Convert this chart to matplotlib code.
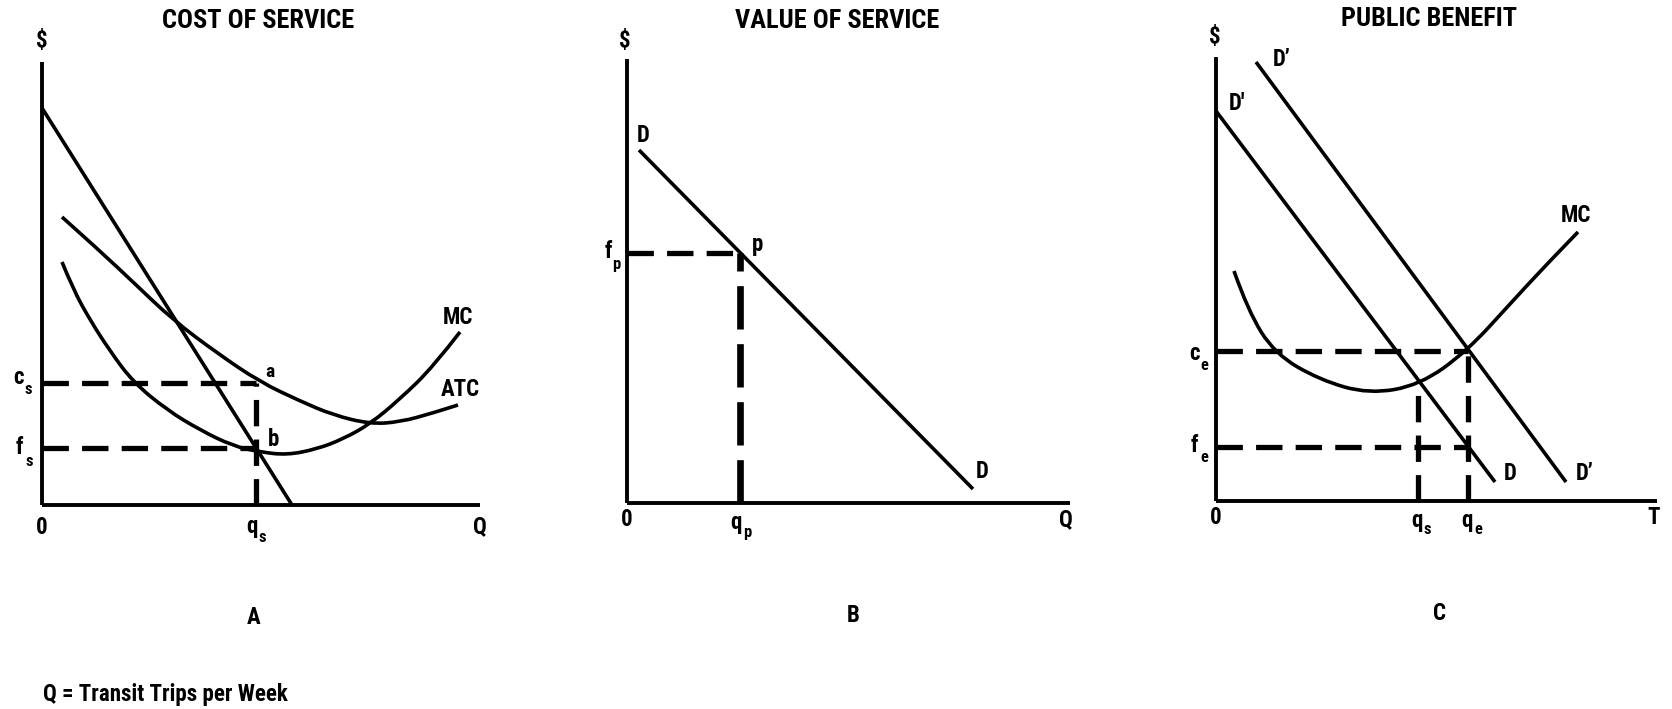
import matplotlib
matplotlib.use("Agg")
import matplotlib.pyplot as plt
from matplotlib import font_manager as fm
from matplotlib.path import Path
from matplotlib.patches import PathPatch

# ---------------- font selection (bold condensed look) ----------------
_names = {f.name for f in fm.fontManager.ttflist}
FONT = dict(weight="bold")
for _cand in ["Liberation Sans Narrow", "Arial Narrow", "Roboto Condensed", "Open Sans Condensed"]:
    if _cand in _names:
        FONT["family"] = _cand
        break
else:
    FONT["family"] = "DejaVu Sans"
    FONT["stretch"] = "condensed"

# ---------------- data ----------------
# Panel A: cost of service
a_demand_q = [0, 250]
a_demand_p = [397, 0]
a_atc_q = [20, 58, 91, 131, 175, 218, 258, 291, 328, 358, 391, 416]
a_atc_p = [288, 254, 223, 185, 152, 123, 104, 90, 81, 83, 92, 100]
a_mc_q = [20, 31, 48, 68, 91, 125, 158, 191, 218, 245, 275, 301, 328, 358, 391, 418]
a_mc_p = [243, 216, 185, 154, 123, 95, 75, 59, 53, 50, 56, 66, 81, 106, 138, 173]
a_cs, a_fs, a_qs = 122, 57, 214

# Panel B: value of service
b_demand_q = [12, 346]
b_demand_p = [353, 14]
b_fp, b_qp = 250, 113

# Panel C: public benefit
c_d_q = [0, 279]
c_d_p = [390, 19]
c_d2_q = [40, 350]
c_d2_p = [439, 19]
c_mc_q = [18, 32, 59, 104, 153, 204, 251, 294, 329, 362]
c_mc_p = [230, 190, 147, 121, 107, 116, 150, 197, 235, 269]
c_ce, c_fe, c_qs, c_qe, c_ms = 150, 54, 202, 252, 118

titles = ["COST OF SERVICE", "VALUE OF SERVICE", "PUBLIC BENEFIT"]
panel_letters = ["A", "B", "C"]
footnote = "Q = Transit Trips per Week"

# ---------------- figure ----------------
W, H = 1672, 709
fig = plt.figure(figsize=(W / 100, H / 100), dpi=100)
fig.patch.set_facecolor("white")


def make_ax(ox, oy, w, h):
    ax = fig.add_axes([ox / W, (H - oy) / H, w / W, h / H])
    ax.set_xlim(0, w)
    ax.set_ylim(0, h)
    for s in ["top", "right"]:
        ax.spines[s].set_visible(False)
    for s in ["left", "bottom"]:
        ax.spines[s].set_linewidth(2.8)
        ax.spines[s].set_color("black")
        ax.spines[s].set_capstyle("butt")
    ax.set_xticks([])
    ax.set_yticks([])
    ax.patch.set_alpha(0)
    return ax


LW = 2.6
DLW = 3.8
DASH = (5, 2.5)
TS = 16.5   # label size


def curve(ax, x, y):
    pts = list(zip(x, y))
    if len(pts) <= 2:
        ax.plot(x, y, color="black", lw=LW, solid_capstyle="butt", clip_on=False)
        return
    verts = [pts[0]]
    codes = [Path.MOVETO]
    for i in range(1, len(pts) - 1):
        if i == len(pts) - 2:
            end = pts[-1]
        else:
            end = ((pts[i][0] + pts[i + 1][0]) / 2, (pts[i][1] + pts[i + 1][1]) / 2)
        verts += [pts[i], end]
        codes += [Path.CURVE3, Path.CURVE3]
    patch = PathPatch(Path(verts, codes), facecolor="none", edgecolor="black",
                      lw=LW, capstyle="butt", clip_on=False)
    ax.add_patch(patch)


def dashed(ax, x, y, lw=DLW, dashes=DASH):
    ax.plot(x, y, color="black", lw=lw, dashes=dashes, dash_capstyle="butt", clip_on=False)


def txt(ax, x, y, s, size=TS, **kw):
    ax.text(x, y, s, fontsize=size, ha="center", va="center", color="black", **FONT, **kw)


def sub_label(ax, x, y, main, sub, size=TS, dx=8, dy=-10):
    txt(ax, x, y, main, size=size)
    txt(ax, x + dx, y + dy, sub, size=size * 0.72)


# ---------- Panel A ----------
axA = make_ax(42, 505, 438, 443)
curve(axA, a_demand_q, a_demand_p)
curve(axA, a_atc_q, a_atc_p)
curve(axA, a_mc_q, a_mc_p)
dashed(axA, [0, a_qs], [a_cs, a_cs])
dashed(axA, [0, a_qs], [a_fs, a_fs])
dashed(axA, [a_qs, a_qs], [0, a_cs])
txt(axA, 216, 484, titles[0], size=19)
txt(axA, 0, 464, "$", size=TS)
sub_label(axA, -24, 128, "c", "s", dx=10, dy=-12)
sub_label(axA, -23, 58, "f", "s", dx=10, dy=-14)
txt(axA, 228, 133, "a", size=14)
txt(axA, 232, 66, "b", size=TS)
txt(axA, 416, 188, "MC", size=TS)
txt(axA, 418, 116, "ATC", size=TS)
txt(axA, 0, -22, "0", size=TS)
sub_label(axA, 210, -21, "q", "s", dx=10, dy=-11)
txt(axA, 438, -22, "Q", size=TS)
txt(axA, 212, -112, panel_letters[0], size=TS)

# ---------- Panel B ----------
axB = make_ax(627, 503, 443, 444)
curve(axB, b_demand_q, b_demand_p)
dashed(axB, [0, b_qp], [b_fp, b_fp])
dashed(axB, [b_qp, b_qp], [0, b_fp], lw=4.8, dashes=(6.5, 2.2))
txt(axB, 210, 482, titles[1], size=19)
txt(axB, -2, 463, "$", size=TS)
txt(axB, 16, 367, "D", size=TS)
txt(axB, 355, 31, "D", size=TS)
txt(axB, 131, 259, "p", size=TS)
sub_label(axB, -19, 252, "f", "p", dx=8, dy=-13)
txt(axB, 0, -17, "0", size=TS)
sub_label(axB, 109, -19, "q", "p", dx=11, dy=-10)
txt(axB, 439, -17, "Q", size=TS)
txt(axB, 226, -112, panel_letters[1], size=TS)

# ---------- Panel C ----------
axC = make_ax(1216, 501, 441, 444)
curve(axC, c_d_q, c_d_p)
curve(axC, c_d2_q, c_d2_p)
curve(axC, c_mc_q, c_mc_p)
dashed(axC, [0, c_qe], [c_ce, c_ce])
dashed(axC, [0, c_qe], [c_fe, c_fe])
dashed(axC, [c_qe, c_qe], [0, c_ce])
dashed(axC, [c_qs, c_qs], [0, c_ms])
txt(axC, 213, 482, titles[2], size=19)
txt(axC, -1, 465, "$", size=TS)
txt(axC, 21, 397, "D'", size=TS)
txt(axC, 66, 442, "D\u2019", size=TS)
txt(axC, 294, 27, "D", size=TS)
txt(axC, 369, 27, "D\u2019", size=TS)
txt(axC, 360, 285, "MC", size=TS)
sub_label(axC, -22, 147, "c", "e", dx=10, dy=-11)
sub_label(axC, -22, 55, "f", "e", dx=10, dy=-11)
txt(axC, 0, -17, "0", size=TS)
sub_label(axC, 201, -19, "q", "s", dx=10, dy=-10)
sub_label(axC, 251, -19, "q", "e", dx=11, dy=-10)
txt(axC, 438, -17, "T", size=TS)
txt(axC, 223, -112, panel_letters[2], size=TS)

fig.text(43 / W, (H - 695) / H, footnote, fontsize=16.5, ha="left", va="center", **FONT)

fig.savefig("out.png", dpi=100, facecolor="white")
